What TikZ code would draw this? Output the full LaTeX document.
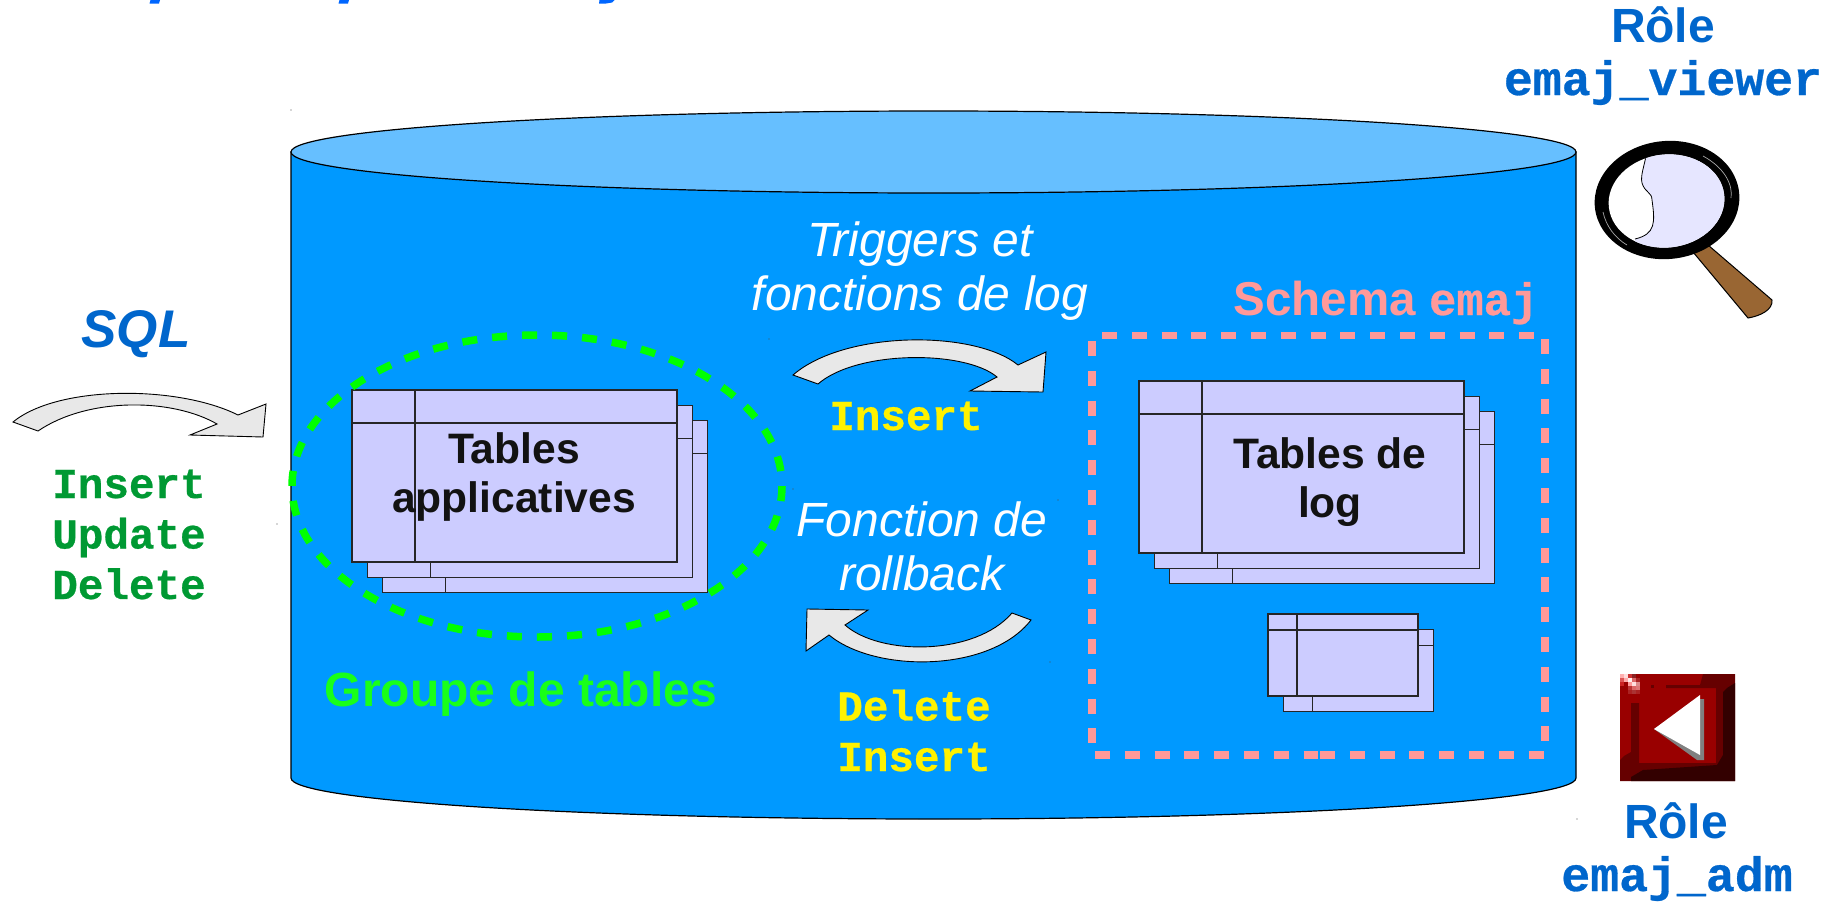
\documentclass[tikz,border=0pt]{standalone}
\usepackage{fontspec}
\setmainfont{Liberation Sans}
\setmonofont{Liberation Mono}[BoldFeatures={FakeBold=0.6}]
\definecolor{dbblue}{HTML}{0099FF}
\definecolor{dbtop}{HTML}{66BFFF}
\definecolor{sheetblue}{HTML}{CCCCFF}
\definecolor{rolblue}{HTML}{0066CC}
\definecolor{titleblue}{HTML}{0066FF}
\definecolor{sqlgreen}{HTML}{009933}
\definecolor{schemapink}{HTML}{FF9999}
\definecolor{marble}{HTML}{E8E8E8}
\definecolor{lens}{HTML}{E6E6FF}
\definecolor{handle}{HTML}{996633}
\definecolor{btnred}{HTML}{990000}
\definecolor{btndark}{HTML}{660000}
\definecolor{btnblack}{HTML}{330000}
\tikzset{
  cylpart/.style={draw=black,line width=1.2pt},
  sheetline/.style={draw=black!85,line width=1.1pt},
  bendarrow/.style={draw=black,line width=0.9pt,fill=marble},
  groupline/.style={draw=green,line width=7.5pt,dash pattern=on 15pt off 15.04pt},
  schemaline/.style={draw=schemapink,line width=7.5pt,dash pattern=on 15pt off 14.8pt},
  lbl/.style={anchor=base,align=center,inner sep=0pt},
  sansbig/.style={lbl,font=\fontsize{48}{53}\selectfont\bfseries},
  codebig/.style={lbl,font=\fontsize{48.2}{53}\selectfont\ttfamily\bfseries},
  codemid/.style={lbl,font=\fontsize{42.6}{50.5}\selectfont\ttfamily\bfseries},
  tabletxt/.style={lbl,text=black!93,font=\fontsize{42.6}{48.5}\selectfont\bfseries},
  whitetxt/.style={lbl,text=white,font=\fontsize{48}{53.5}\selectfont\itshape}
}
% layers, x, y, width, height, column, header
\newcommand{\tablestack}[7]{
  \foreach \n in {#1}{
    \begin{scope}[shift={(15.3*\n,-15.3*\n)}]
      \fill[sheetblue] (#2,-#3) rectangle ++(#4,-#5);
      \draw[sheetline] (#2,-#3) rectangle ++(#4,-#5);
      \draw[sheetline] (#2,-#3) ++(#6,0) -- ++(0,-#5);
      \draw[sheetline] (#2,-#3) ++(0,-#7) -- ++(#4,0);
    \end{scope}
  }
}
\begin{document}
\begin{tikzpicture}[x=1pt,y=1pt]
\useasboundingbox (0,0) rectangle (1836,-905);
% what is left of the cut title
\fill [titleblue] (150.5,0) -- (160,0) -- (159,-3.5) -- (149.5,-3.5) -- cycle;
\fill [titleblue] (339.5,0) -- (349,0) -- (348,-3.5) -- (338.5,-3.5) -- cycle;
\fill [titleblue] (604,0) -- (614.5,0) -- (612,-2.5) -- (606,-3.5) -- (599,-3.5) -- (599.5,0) -- cycle;
% database
\draw [cylpart,fill=dbblue] (291,-152) -- (291,-778) arc (180:360:642.5 and 41) -- (1576,-152) -- cycle;
\draw [cylpart,fill=dbtop] (933.5,-152) ellipse (642.5 and 41);
\foreach \sx/\sy in {291/110,769/339,793/489,1058/500,1050/662,1577/819,277/524}
  \fill [black!70] (\sx,-\sy) circle (0.7);
% tables
\tablestack{2,1,0}{352}{390}{325}{172}{63}{33}
\tablestack{2,1,0}{1139}{381}{325}{172}{63}{33}
\tablestack{1,0}{1268}{614}{150}{82}{29}{16}
% frames
\draw [groupline] (537,-637) arc (-90:270:245 and 151);
\draw [schemaline] (1102,-335.5) -- (1535,-335.5);
\draw [schemaline] (1545,-339) -- (1545,-742);
\draw [schemaline] (1095,-755) -- (1318,-755);
\draw [schemaline] (1320,-755) -- (1544,-755);
\draw [schemaline] (1092,-341) -- (1092,-743);
% bent arrows
\draw [bendarrow] (13,-422) .. controls (58,-385) and (178,-385) .. (238,-415) -- (266,-404) -- (263,-437) -- (190,-435) -- (217,-424) .. controls (172,-398) and (88,-397) .. (38,-431) -- cycle;
\draw [bendarrow] (793,-375) .. controls (845,-330) and (975,-330) .. (1018,-365) -- (1046,-352) -- (1043,-392) -- (970,-391) -- (997,-377) .. controls (965,-350) and (857,-350) .. (818,-384) -- cycle;
\draw [bendarrow] (1031,-620) .. controls (990,-673) and (875,-673) .. (829,-635) -- (806,-651) -- (807,-609) -- (868,-610) -- (845,-625) .. controls (880,-656) and (975,-656) .. (1012,-613) -- cycle;
% magnifier
\draw [black,line width=1pt,fill=handle] (1693,-252) -- (1708,-245) -- (1772,-300) .. controls (1773,-310) and (1760,-316) .. (1748,-318) -- cycle;
\fill [black,rotate around={6:(1667,-200)}] (1667,-200) ellipse (72.5 and 59);
\begin{scope}
  \clip [rotate around={6:(1666.5,-201)}] (1666.5,-201) ellipse (58 and 46.5);
  \fill [white] (1600,-140) rectangle (1730,-260);
  \fill [lens] (1647,-150) .. controls (1645,-165) and (1640,-175) .. (1642,-183) .. controls (1645,-193) and (1652,-192) .. (1652,-200) .. controls (1655,-222) and (1656,-234) .. (1635,-239) -- (1635,-260) -- (1730,-260) -- (1730,-140) -- (1647,-140) -- cycle;
  \draw [black,line width=0.8pt] (1647,-150) .. controls (1645,-165) and (1640,-175) .. (1642,-183) .. controls (1645,-193) and (1652,-192) .. (1652,-200) .. controls (1655,-222) and (1656,-234) .. (1635,-239);
\end{scope}
\draw [gray!70,line width=0.7pt] (1703,-156) .. controls (1725,-168) and (1733,-185) .. (1731,-198);
\draw [gray!70,line width=0.7pt] (1603,-212) .. controls (1606,-226) and (1615,-238) .. (1627,-245);
% button
\fill [btnred] (1620,-674) rectangle (1735,-781);
\fill [btndark] (1703,-674) -- (1735,-674) -- (1735,-781) -- (1620,-781) -- (1620,-760) -- (1624,-756) -- (1631,-752) -- (1631,-703) -- (1639,-703) -- (1639,-763) -- (1716,-763) -- (1716,-688) -- (1666,-688) -- (1666,-685) -- (1700,-685) -- cycle;
\fill [btnblack] (1735,-683) -- (1727,-688) -- (1723,-692) -- (1723,-755) -- (1717,-765) -- (1643,-770) -- (1631,-777) -- (1631,-781) -- (1735,-781) -- cycle;
\fill [btndark] (1651,-685) rectangle (1654,-688);
\foreach \pcol/\prow/\phex in {0/0/FFB0B0,1/0/FFDDDD,2/0/CC3333,3/0/882222,
    0/1/DD5555,1/1/FFAAAA,2/1/FFEEEE,3/1/DD6666,4/1/AA2222,
    0/2/CC2222,2/2/FF9999,3/2/FFDDDD,4/2/DD8888,
    2/3/BB3333,3/3/DD6666,4/3/DD7777,
    2/4/AA2222,3/4/AA3333,4/4/AA2222}{
  \definecolor{pixel}{HTML}{\phex}
  \fill [pixel] (1620+4*\pcol,-674-4*\prow) rectangle ++(4,-4);
}
\fill [gray] (1654,-729) -- (1700,-699) -- (1704,-699) -- (1704,-760) -- (1697,-760) -- cycle;
\fill [white] (1654,-729) -- (1700,-695) -- (1700,-755) -- cycle;
% texts
\node [sansbig,text=rolblue] (viewerrole) at (1663,-42) {Rôle};
\node [codebig,text=rolblue] (viewername) at (1663,-95) {emaj\_viewer};
\node [sansbig,text=rolblue] (admrole) at (1676,-838) {Rôle};
\node [codebig,text=rolblue] (admname) at (1677,-891) {emaj\_adm};
\node [lbl,text=rolblue,font=\fontsize{53}{56}\selectfont\bfseries\itshape] (sqltxt) at (136,-347) {SQL};
\node [codemid,text=sqlgreen] (sqlverbs) at (129,-599) {Insert\\Update\\Delete};
\node [whitetxt] (triggertxt) at (920,-310) {Triggers et\\fonctions de log};
\node [codemid,text=yellow] (logverb) at (906,-430) {Insert};
\node [whitetxt] (rollbacktxt) at (922,-590) {Fonction de\\rollback};
\node [codemid,text=yellow] (rollbackverbs) at (914,-771) {Delete\\Insert};
\node [tabletxt] (apptxt) at (514,-512) {Tables\\applicatives};
\node [tabletxt] (logtxt) at (1330,-517) {Tables de\\log};
\node [lbl,text=green!90!white,font=\fontsize{48}{53}\selectfont\bfseries] (grouptxt) at (521,-706) {Groupe de tables};
\node [lbl,text=schemapink,font=\fontsize{47.5}{53}\selectfont\bfseries] (schematxt) at (1386,-315) {Schema {\ttfamily\fontsize{45.5}{53}\selectfont emaj}};
\end{tikzpicture}
\end{document}
